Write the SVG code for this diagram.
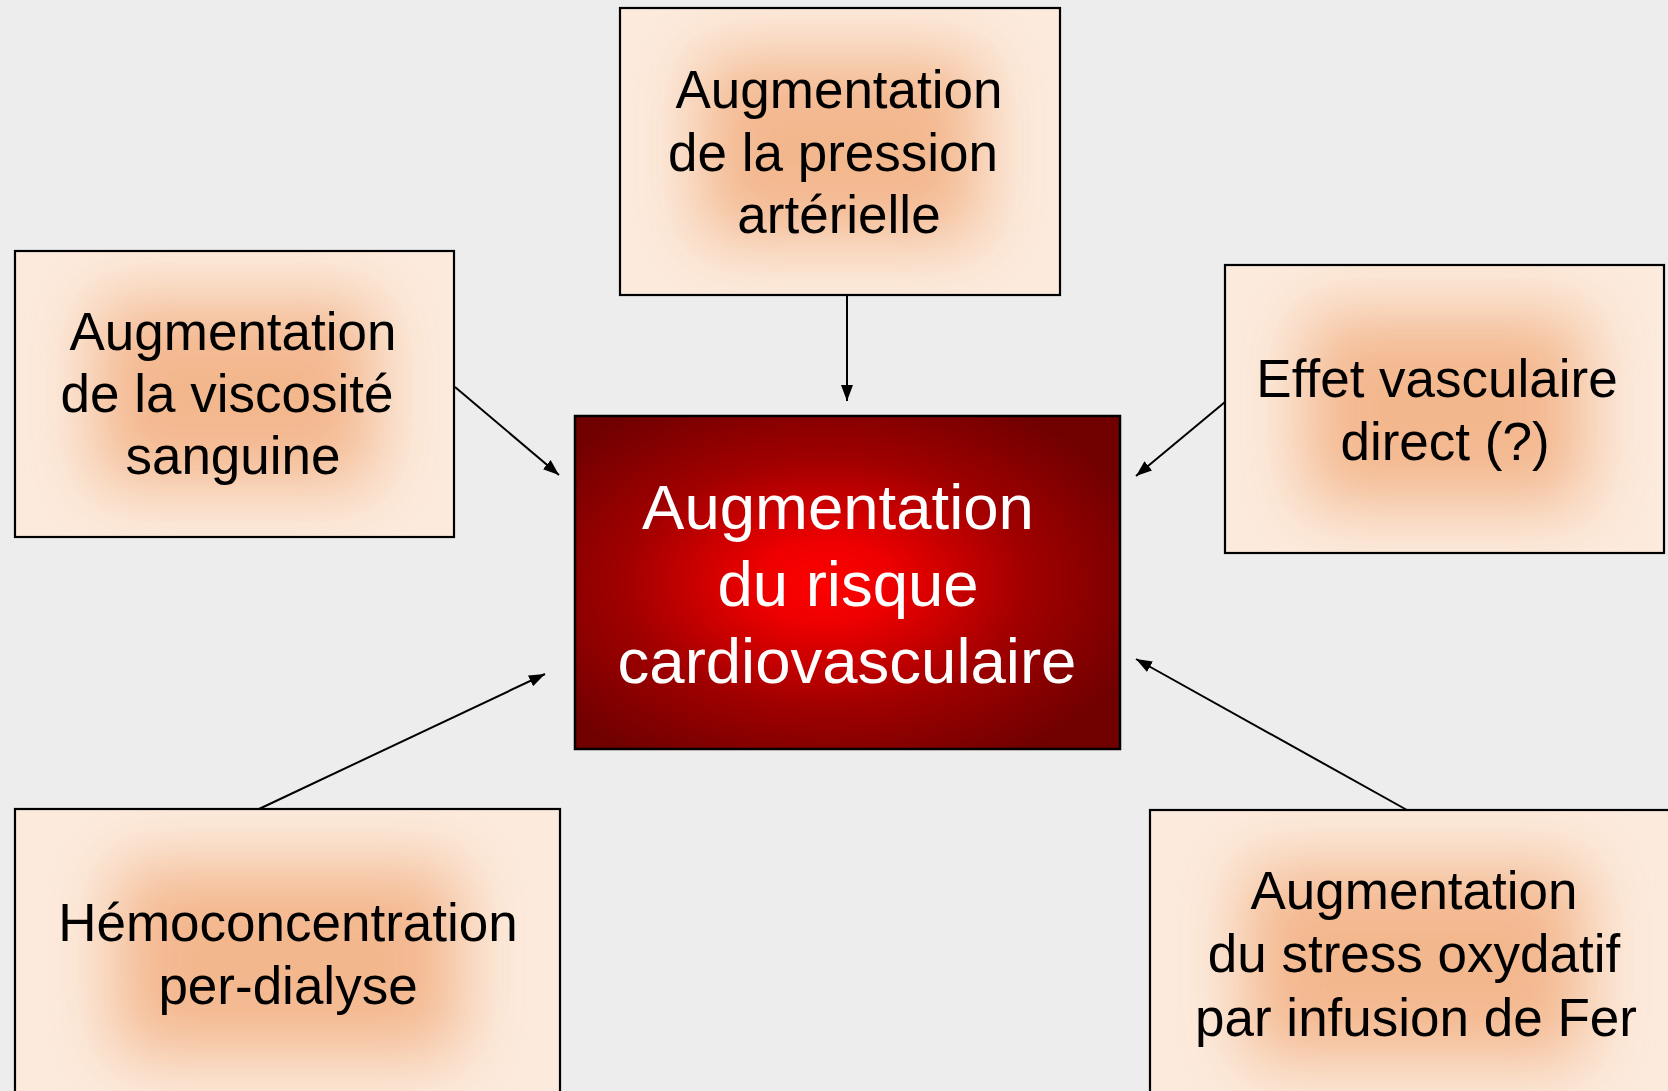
<svg xmlns="http://www.w3.org/2000/svg" width="1668" height="1091" viewBox="0 0 1668 1091">
<style>
.box{stroke:#000;stroke-width:2.2}
.bg{fill:#FCEBDD}
.glow{fill:#F2AE80;opacity:0.85;filter:url(#blur)}
.t{font-family:"Liberation Sans",Arial,sans-serif;font-size:53px;fill:#000;text-anchor:middle}
.tm{font-family:"Liberation Sans",Arial,sans-serif;font-size:63.5px;fill:#fff;text-anchor:middle}
.conn line{stroke:#000;stroke-width:2;marker-end:url(#arr)}
</style>
<defs>
<filter id="blur" x="-50%" y="-50%" width="200%" height="200%"><feGaussianBlur stdDeviation="34"/></filter>
<radialGradient id="red" cx="0.46" cy="0.5" r="0.62" fx="0.46" fy="0.5">
<stop offset="0" stop-color="#FF0000"/>
<stop offset="0.2" stop-color="#EE0000"/>
<stop offset="0.6" stop-color="#A00000"/>
<stop offset="1" stop-color="#700000"/>
</radialGradient>
<marker id="arr" markerUnits="userSpaceOnUse" markerWidth="16" markerHeight="12" refX="16" refY="6" orient="auto"><path d="M0,0 L16,6 L0,12 z" fill="#000"/></marker>
<clipPath id="c1"><rect x="620" y="8" width="440" height="287"/></clipPath>
<clipPath id="c2"><rect x="15" y="251" width="439" height="286"/></clipPath>
<clipPath id="c3"><rect x="1225" y="265" width="439" height="288"/></clipPath>
<clipPath id="c4"><rect x="15" y="809" width="545" height="300"/></clipPath>
<clipPath id="c5"><rect x="1150" y="810" width="530" height="300"/></clipPath>
</defs>
<rect x="0" y="0" width="1668" height="1091" fill="#EDEDED"/>

<g id="conn" class="conn">
<line x1="847" y1="295" x2="847" y2="401"/>
<line x1="455" y1="387" x2="559" y2="475"/>
<line x1="1225" y1="402" x2="1136" y2="476"/>
<line x1="259" y1="809" x2="545" y2="674"/>
<line x1="1407" y1="810" x2="1136" y2="659"/>
</g>

<g id="n-pression">
<rect class="bg" x="620" y="8" width="440" height="287"/>
<g clip-path="url(#c1)"><rect class="glow" x="700" y="55" width="280" height="185"/></g>
<rect class="box" x="620" y="8" width="440" height="287" fill="none"/>
<text class="t"><tspan x="839" y="108">Augmentation</tspan><tspan x="833" y="171">de la pression</tspan><tspan x="839" y="233">artérielle</tspan></text>
</g>

<g id="n-viscosite">
<rect class="bg" x="15" y="251" width="439" height="286"/>
<g clip-path="url(#c2)"><rect class="glow" x="95" y="300" width="280" height="185"/></g>
<rect class="box" x="15" y="251" width="439" height="286" fill="none"/>
<text class="t"><tspan x="233" y="350">Augmentation</tspan><tspan x="227" y="412">de la viscosité</tspan><tspan x="233" y="474">sanguine</tspan></text>
</g>

<g id="n-vasculaire">
<rect class="bg" x="1225" y="265" width="439" height="288"/>
<g clip-path="url(#c3)"><rect class="glow" x="1305" y="315" width="280" height="190"/></g>
<rect class="box" x="1225" y="265" width="439" height="288" fill="none"/>
<text class="t"><tspan x="1437" y="397">Effet vasculaire</tspan><tspan x="1445" y="460">direct (?)</tspan></text>
</g>

<g id="n-hemo">
<rect class="bg" x="15" y="809" width="545" height="300"/>
<g clip-path="url(#c4)"><rect class="glow" x="115" y="865" width="345" height="190"/></g>
<rect class="box" x="15" y="809" width="545" height="300" fill="none"/>
<text class="t"><tspan x="288" y="941">Hémoconcentration</tspan><tspan x="288" y="1004">per-dialyse</tspan></text>
</g>

<g id="n-stress">
<rect class="bg" x="1150" y="810" width="530" height="300"/>
<g clip-path="url(#c5)"><rect class="glow" x="1245" y="865" width="340" height="195"/></g>
<rect class="box" x="1150" y="810" width="530" height="300" fill="none"/>
<text class="t"><tspan x="1414" y="909">Augmentation</tspan><tspan x="1414" y="972">du stress oxydatif</tspan><tspan x="1416" y="1036">par infusion de Fer</tspan></text>
</g>

<g id="n-risque">
<rect x="575" y="416" width="545" height="333" fill="url(#red)" stroke="#000" stroke-width="2.5"/>
<text class="tm"><tspan x="838" y="529">Augmentation</tspan><tspan x="848" y="606">du risque</tspan><tspan x="847" y="683">cardiovasculaire</tspan></text>
</g>
</svg>
